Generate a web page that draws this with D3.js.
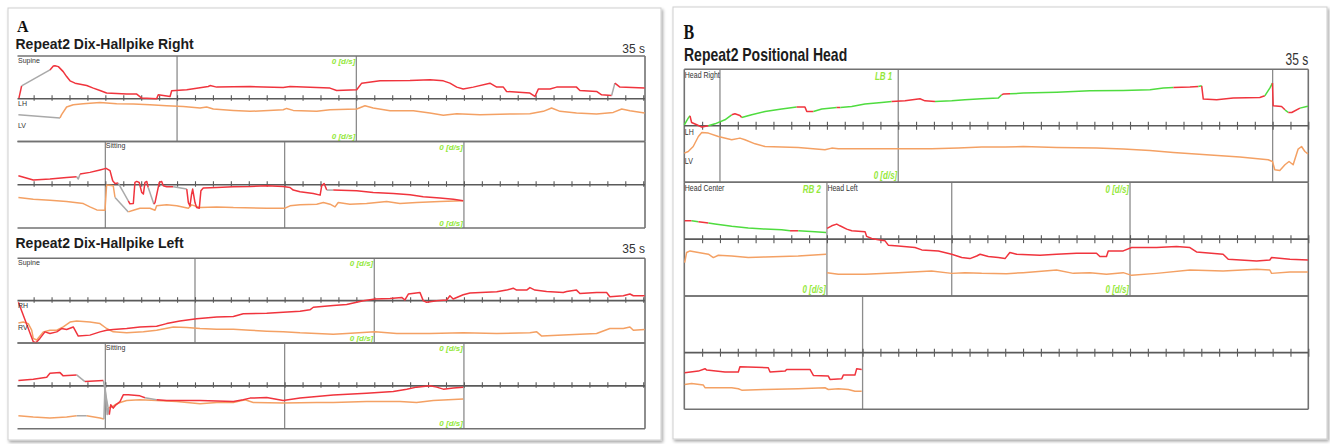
<!DOCTYPE html>
<html>
<head>
<meta charset="utf-8">
<script src="https://cdn.jsdelivr.net/npm/d3@7"></script>
<style>
  html, body { margin: 0; padding: 0; background: #fff; }
  svg { display: block; font-family: "Liberation Sans", Arial, sans-serif; }
</style>
</head>
<body>
<svg id="chart" width="1330" height="444"></svg>
<script>
// ---------------- recorded traces: [time (s), velocity (d/s)] ----------------
// Dix-Hallpike Right, horizontal (LH) and vertical (LV) channels
const dhRightH = [
  [0.18,0.16],[0.33,3.02],[1.91,6.74],[2.10,7.67],[2.19,7.74],[2.38,7.51],[2.65,6.35],[2.84,5.19],[3.03,4.19],[3.31,3.65],
  [3.96,3.09],[4.33,2.49],[4.70,1.93],[5.07,1.33],[6.19,1.09],[6.75,1.09],[7.03,0.16],[7.86,0],[7.95,0.93],[8.61,0.53],
  [8.70,1.86],[9.54,2.09],[10.74,2.86],[10.84,3.09],[11.21,2.72],[13.07,2.86],[14.92,2.63],[15.30,2.86],[16.79,2.63],[17.53,2.49],
  [17.90,1.93],[19.02,2.09],[19.30,3.65],[20.32,4.19],[21.99,4.26],[23.11,4.42],[23.85,4.19],[24.22,3.65],[24.60,2.72],[24.96,2.26],
  [25.52,2.72],[26.45,3.65],[26.83,2.72],[27.20,2.72],[27.38,1.70],[28.68,1.33],[28.96,0.53],[29.15,2.26],[29.80,2.26],[30.17,2.72],
  [31.28,2.72],[31.47,1.93],[32.40,1.70],[32.68,0.93],[33.24,0.77],[33.42,3.65],[33.70,2.72],[35.08,2.49],
  [35.15,2.09],[35.98,1.09],[36.91,1.33],[37.84,1.70],[38.40,1.86],[38.49,1.33],[38.59,2.49],[39.14,2.86],[39.70,3.42],[40.04,3.79],
  [40.26,3.26],[40.41,0.93],[40.54,0.30],[40.72,0.40],[41.28,-3.72],[41.37,-4.42],[41.56,-4.35],[41.65,0.53],[41.75,0.77],[41.89,0.53],
  [42.03,-1.79],[42.12,-2.16],[42.21,0.53],[42.31,0.77],[42.39,-0.63],[42.71,-4.49],[42.77,-4.12],[43.01,0.53],[43.14,0.77],[43.23,-0.23],
  [43.42,-0.47],[43.79,-0.47],[44.54,-1.00],[44.63,-4.12],[44.72,-4.88],[44.81,-2.16],[44.87,-1.00],[45.00,-4.12],[45.09,-5.28],[45.24,-5.42],
  [45.33,-1.40],[45.46,-0.77],[46.21,-0.63],[47.14,-0.47],[48.07,-0.40],[49.00,-0.23],[49.92,-0.40],[50.30,-0.63],[50.48,-1.23],[50.86,-1.63],
  [51.60,-2.02],[51.98,-2.40],[52.07,-0.23],[52.20,0.30],[52.35,-1.23],[52.71,-1.23],[54.02,-1.40],[54.94,-1.79],[56.06,-2.02],[56.99,-2.33],
  [57.73,-2.79],[58.66,-3.09],[59.41,-3.33],[59.96,-3.72]
];
const dhRightHGaps = [[0.33,1.91],[33.24,33.42],[38.40,38.59],[40.72,41.28],[42.39,42.71],[43.79,44.54],[52.35,52.71]];
const dhRightV = [
  [0.15,-3.72],[2.47,-4.49],[2.56,-3.72],[2.84,-1.93],[3.21,-1.40],[3.77,-1.16],[4.70,-0.86],[5.63,-1.16],[6.56,-1.23],[7.49,-1.40],
  [8.42,-1.63],[9.35,-1.79],[10.28,-2.16],[10.65,-1.93],[11.02,-2.40],[12.14,-2.72],[13.07,-2.95],[14.92,-2.56],[15.11,-2.26],[15.48,-2.72],
  [16.79,-2.95],[17.53,-2.56],[19.02,-2.40],[19.48,-1.63],[19.94,-2.16],[20.88,-2.79],[22.18,-2.79],[23.10,-3.33],[23.85,-3.88],[24.60,-3.49],
  [25.90,-3.72],[27.75,-3.56],[28.68,-3.49],[29.43,-2.95],[29.89,-2.16],[30.36,-2.95],[31.28,-3.33],[32.40,-3.56],[33.33,-3.19],[33.80,-2.40],
  [34.26,-2.79],[35.08,-3.33],
  [35.15,-2.95],[35.98,-3.33],[36.91,-3.56],[37.84,-3.88],[38.77,-4.35],[39.14,-5.12],[39.52,-5.81],[39.98,-5.88],[40.07,-0.07],[40.44,-0.23],
  [40.54,-2.95],[41.28,-6.28],[41.56,-5.88],[41.93,-5.42],[42.49,-5.42],[42.77,-5.88],[42.86,-4.88],[43.42,-4.65],[43.98,-4.88],[44.63,-5.42],
  [44.81,-4.65],[45.28,-5.28],[46.21,-5.12],[47.14,-5.28],[49.00,-5.42],[50.02,-5.42],[50.30,-4.88],[50.86,-4.65],[51.79,-4.49],[52.16,-4.12],
  [52.53,-4.49],[52.81,-5.12],[52.99,-4.12],[53.64,-4.49],[54.57,-4.35],[55.69,-3.88],[56.43,-4.35],[57.36,-4.12],[58.66,-3.88],[59.96,-3.72]
];
const dhRightVGaps = [[0.15,2.47],[40.54,41.28]];

// Dix-Hallpike Left, horizontal (RH) and vertical (RV) channels
const dhLeftH = [
  [0.15,-0.40],[0.98,-9.70],[1.13,-9.93],[1.35,-8.91],[1.63,-7.37],[1.91,-7.74],[2.29,-7.37],[2.56,-6.58],[2.84,-6.81],[3.21,-6.21],
  [3.49,-8.37],[4.14,-8.14],[4.70,-7.37],[5.07,-6.98],[5.44,-6.81],[6.19,-6.58],[6.93,-6.21],[7.86,-6.05],[8.42,-5.42],[9.16,-4.81],
  [10.09,-4.26],[11.21,-3.88],[12.14,-3.72],[12.69,-3.09],[14.00,-2.95],[14.92,-2.72],[15.86,-2.49],[16.41,-2.16],[16.60,-1.56],[17.71,-1.16],
  [18.46,-0.93],[19.39,0],[20.04,0.40],[20.88,0.53],[21.53,0.77],[21.71,0.16],[21.90,1.56],[22.55,1.93],[22.73,0],[22.92,-0.40],
  [23.48,0],[24.04,0.16],[24.22,1.16],[24.40,0.40],[24.96,1.40],[25.34,1.79],[26.83,2.09],[27.38,2.49],[27.75,2.95],[27.94,2.49],
  [28.50,2.49],[28.68,3.09],[28.96,2.49],[29.61,2.16],[30.54,1.93],[30.73,2.16],[31.28,2.49],[31.47,1.70],[32.40,1.93],[32.96,1.93],
  [33.14,0.93],[33.89,1.16],[34.26,1.56],[34.45,1.16],[35.08,1.16],
  [35.15,1.23],[35.98,1.56],[36.73,2.02],[36.91,2.95],[37.47,3.09],[37.65,2.33],[38.40,2.56],[38.86,1.00],[39.89,1.23],[40.22,-6.74],
  [40.30,-4.42],[40.44,-5.19],[40.59,-4.42],[40.82,-3.65],[41.00,-2.09],[41.28,-2.09],[41.93,-2.33],[42.21,-2.79],[42.86,-3.26],[43.42,-3.42],
  [45.28,-3.42],[47.14,-3.65],[47.69,-3.26],[48.07,-2.86],[49.00,-2.72],[49.92,-3.42],[50.86,-2.86],[51.79,-2.49],[52.71,-2.16],[54.57,-1.70],
  [56.06,-1.33],[56.81,-0.77],[57.36,-0.30],[58.10,0],[58.48,-0.30],[58.85,-0.77],[59.41,-0.53],[59.96,-0.30]
];
const dhLeftHGaps = [[38.40,38.86],[39.89,40.22],[42.21,42.86]];
const dhLeftV = [
  [0.15,-5.28],[0.42,-5.05],[0.70,-5.42],[0.89,-6.98],[0.98,-8.91],[1.17,-9.30],[1.54,-7.37],[1.91,-6.98],[2.29,-6.98],[2.65,-6.21],
  [3.03,-5.05],[3.40,-4.81],[4.14,-5.05],[4.70,-5.42],[5.07,-6.58],[5.44,-7.37],[6.19,-7.60],[7.12,-7.37],[7.86,-6.98],[8.79,-6.21],
  [9.54,-6.35],[10.28,-6.58],[11.21,-6.74],[12.14,-6.74],[13.07,-6.98],[14.00,-7.21],[14.92,-7.37],[15.86,-7.60],[16.79,-7.74],[17.71,-7.91],
  [18.46,-7.74],[20.04,-7.37],[21.25,-7.74],[23.10,-7.74],[24.96,-7.60],[26.83,-7.74],[28.68,-7.60],[29.06,-7.37],[29.34,-8.37],[30.54,-8.14],
  [32.40,-7.74],[33.14,-6.58],[33.89,-6.58],[34.26,-6.21],[34.45,-6.98],[35.08,-6.81],
  [35.15,-6.98],[35.98,-7.28],[36.91,-7.51],[37.84,-7.28],[38.40,-6.98],[38.96,-6.98],[39.70,-7.51],[39.92,-7.74],[39.98,0.20],[40.10,-6.70],
  [40.16,-5.19],[40.35,-4.95],[40.54,-4.42],[40.82,-3.88],[41.19,-3.42],[41.93,-3.26],[42.86,-3.42],[43.98,-3.65],[45.28,-4.19],[46.21,-3.88],
  [47.14,-3.88],[47.79,-3.26],[48.25,-3.88],[49.92,-4.02],[51.79,-3.88],[52.71,-3.88],[54.57,-3.65],[56.43,-3.65],[57.36,-3.88],[58.29,-3.42],
  [59.96,-3.09]
];
const dhLeftVGaps = [[38.40,38.96],[39.92,40.16]];

// Positional test: head right, head center, head left
const posRightH = [
  [0.00,0.18],[0.22,1.36],[0.32,1.77],[0.41,0.58],[0.70,0.18],[0.98,-0.23],[1.35,0],[1.72,0.35],[2.28,1.06],[2.66,1.95],
  [2.84,2.12],[3.12,1.82],[3.22,1.47],[3.78,1.95],[4.53,2.53],[5.46,2.96],[6.30,3.31],[6.77,3.31],[6.87,2.53],[7.24,2.53],
  [7.71,2.96],[8.55,3.22],[8.75,3.26],[9.39,3.42],[10.13,3.84],[11.07,4.12],[11.63,4.30],[12.38,4.42],[13.22,4.78],[13.50,4.42],
  [14.06,4.30],[15.00,4.42],[15.74,4.60],[16.68,4.78],[17.61,4.90],[17.80,5.49],[17.89,5.61],[18.27,5.66],[19.01,5.79],[20.89,5.96],
  [22.75,6.19],[24.62,6.25],[26.12,6.37],[26.87,6.67],[27.43,6.78],[28.36,6.85],[28.83,6.96],[29.02,7.08],[29.11,4.73],[29.86,4.60],
  [30.79,4.90],[32.28,5.01],[32.56,5.31],[32.84,6.67],[32.99,7.56],[33.03,3.54],[33.50,3.42],[33.69,2.83],[33.88,2.35],[34.07,2.35],
  [34.53,3.13],[34.91,3.42],[34.98,3.45]
];
const posRightHRed = [[0.3,1.2],[2.6,3.2],[6.2,7.1],[8.5,8.8],[11.6,14.0],[17.8,18.4],[27.4,28.9],[29.05,32.5],[32.95,33.7],[33.95,34.6]];
const posRightV = [
  [0.00,-4.83],[0.22,-4.55],[0.50,-3.66],[0.79,-1.89],[0.98,-1.19],[1.35,-1.29],[1.91,-1.89],[2.66,-2.48],[3.12,-2.18],[3.40,-2.48],
  [3.97,-3.19],[4.53,-3.66],[6.39,-3.84],[7.89,-4.25],[8.27,-3.95],[8.64,-4.07],[10.13,-4.07],[12.00,-4.07],[13.87,-4.07],[15.37,-3.95],
  [16.68,-3.77],[17.99,-3.77],[19.01,-3.66],[20.89,-3.84],[23.13,-3.95],[24.62,-4.12],[26.12,-4.37],[27.43,-4.73],[29.29,-5.13],[31.16,-5.54],
  [32.75,-6.02],[32.99,-6.32],[33.12,-7.79],[33.40,-7.91],[33.69,-6.90],[33.92,-6.32],[34.15,-6.90],[34.43,-4.12],[34.62,-3.66],[34.81,-4.55],
  [34.98,-4.96]
];
const posCenterH = [
  [35.02,3.24],[35.41,3.24],[35.79,3.06],[36.35,2.83],[36.72,2.65],[37.66,2.25],[38.59,1.95],[39.53,1.77],[40.46,1.65],[40.93,1.47],
  [41.39,1.47],[42.33,1.29],[42.95,1.19]
];
const posCenterHRed = [[35.0,35.3],[36.0,36.4],[40.7,41.2]];
const posCenterV = [
  [35.02,-4.12],[35.13,-2.35],[35.32,-2.07],[35.79,-2.35],[36.35,-2.65],[36.63,-3.24],[36.91,-2.83],[37.66,-2.96],[38.59,-3.24],[39.53,-3.13],
  [41.39,-2.96],[42.95,-2.65]
];
const posLeftH = [
  [43.01,1.89],[43.27,2.35],[43.55,2.65],[43.73,2.35],[44.11,1.77],[44.39,1.47],[45.14,1.29],[45.23,0.48],[45.51,0.12],[45.88,-0.12],
  [46.26,-0.30],[46.44,-1.06],[47.00,-1.19],[47.94,-1.47],[48.32,-1.89],[49.25,-2.07],[50.00,-2.65],[50.56,-3.24],[51.02,-3.42],[51.40,-2.96],
  [51.59,-2.65],[52.05,-3.06],[52.61,-3.24],[52.99,-3.42],[53.26,-2.35],[53.64,-2.65],[54.95,-2.83],[55.88,-2.65],[57.00,-2.48],[58.12,-2.48],
  [58.31,-3.06],[58.68,-3.06],[58.78,-2.07],[59.62,-2.07],[60.09,-1.47],[61.49,-1.47],[62.61,-1.29],[63.36,-1.47],[63.73,-2.25],[65.22,-2.65],
  [65.51,-3.54],[67.10,-3.84],[67.84,-3.66],[67.94,-3.24],[68.97,-3.54],[69.98,-3.66],
  [70.02,-3.54],[70.79,-3.26],[71.16,-2.83],[71.26,-3.08],[72.28,-3.43],[73.03,-3.43],[73.12,-2.48],[74.71,-2.65],[74.81,-3.43],[75.65,-3.26],
  [75.74,-2.96],[77.05,-2.96],[77.24,-4.02],[78.08,-4.14],[78.17,-4.73],[78.83,-4.60],[78.92,-3.96],[79.57,-3.96],[79.67,-2.83],[79.95,-2.96]
];
const posLeftV = [
  [43.01,-5.89],[43.64,-6.19],[44.39,-6.19],[45.14,-6.19],[47.00,-5.89],[48.87,-5.61],[50.00,-6.02],[50.74,-5.89],[51.68,-6.02],[53.08,-6.07],
  [54.01,-5.89],[55.88,-5.43],[56.82,-6.02],[57.75,-5.89],[58.68,-6.19],[59.62,-5.89],[60.09,-6.37],[61.49,-6.02],[63.36,-5.43],[65.22,-5.61],
  [67.10,-5.31],[67.84,-5.43],[67.94,-6.02],[68.97,-5.79],[69.98,-5.79],
  [70.02,-5.61],[70.41,-5.43],[71.07,-5.73],[71.16,-6.19],[72.66,-6.19],[73.03,-6.37],[73.22,-6.62],[74.52,-6.50],[76.39,-6.37],[77.89,-6.19],
  [78.08,-6.50],[78.64,-6.37],[79.20,-6.50],[79.57,-6.80],[79.95,-6.80]
];

// segment boundaries (s), position phases, and scale markers
const dhRightDividers = [9, 19, 40, 50, 60];
const dhLeftDividers = [10, 20, 40, 50, 60];
const posDividers = [2, 12, 33, 43, 50, 60, 80];
const dhRightPhases = [[0.1, "Supine"], [40, "Sitting"]];
const dhLeftPhases = [[0.1, "Supine"], [40, "Sitting"]];
const posPhases = [[0, "Head Right"], [35, "Head Center"], [43, "Head Left"]];
const dhRightMarkers = [[19, "0 [d/s]", "0 [d/s]"], [60, "0 [d/s]", "0 [d/s]"]];
const dhLeftMarkers = [[20, "0 [d/s]", "0 [d/s]"], [60, "0 [d/s]", "0 [d/s]"]];
const posMarkers = [[12, "LB 1", "0 [d/s]"], [43, "RB 2", "0 [d/s]"], [60, "0 [d/s]", "0 [d/s]"]];

// ---------------- drawing ----------------
const svg = d3.select("#chart");
const COLORS = { h: "#f0343d", v: "#f4a164", green: "#4fdc3f", gap: "#a9a9a9",
                 frame: "#727272", axis: "#5a5a5a", divider: "#8c8c8c", rate: "#94e83c", text: "#3a3a3a" };

const defs = svg.append("defs");
const sh = defs.append("filter").attr("id", "shadow")
  .attr("x", "-3%").attr("y", "-3%").attr("width", "106%").attr("height", "108%");
sh.append("feDropShadow").attr("dx", 1.5).attr("dy", 2).attr("stdDeviation", 1.6)
  .attr("flood-color", "#000").attr("flood-opacity", 0.35);

// outer panel cards
[[8, 8, 653, 432], [673, 7, 654, 432]].forEach(([x, y, w, h]) => {
  svg.append("rect").attr("x", x).attr("y", y).attr("width", w).attr("height", h)
    .attr("fill", "#fff").attr("stroke", "#cfcfcf").attr("stroke-width", 1)
    .attr("filter", "url(#shadow)");
});

function text(g, x, y, str, o = {}) {
  return g.append("text")
    .attr("transform", `translate(${x},${y}) scale(${o.sx || 1},${o.sy || 1})`)
    .attr("text-anchor", o.anchor || "start")
    .attr("font-size", o.size || 7)
    .attr("font-weight", o.weight || "normal")
    .attr("font-style", o.style || "normal")
    .attr("font-family", o.family || null)
    .attr("fill", o.fill || COLORS.text)
    .text(str);
}

function within(t, spans) { return (spans || []).some(([a, b]) => t >= a && t <= b); }

function drawRecording(cfg) {
  const g = svg.append("g");
  const sy = cfg.textScale || 1;
  const span = 35;
  cfg.rows.forEach((row, i) => {
    const t0 = cfg.start + i * span, t1 = t0 + span;
    const inRow = t => t >= t0 - 1e-6 && t < t1 - 1e-6;
    const x = d3.scaleLinear().domain([t0, t1]).range([cfg.left, cfg.right]);
    const y = d3.scaleLinear().domain([-10, 10]).range([row.bottom, row.top]);
    const ay = y(0);

    // segment dividers
    cfg.dividers.filter(inRow).forEach(t => {
      g.append("line").attr("x1", x(t)).attr("x2", x(t)).attr("y1", row.top).attr("y2", row.bottom)
        .attr("stroke", COLORS.divider).attr("stroke-width", 1.3);
    });

    // row frame
    const fr = g.append("g").attr("stroke", COLORS.frame).attr("stroke-width", 1.6);
    fr.append("line").attr("x1", cfg.left).attr("x2", cfg.right).attr("y1", row.top).attr("y2", row.top);
    fr.append("line").attr("x1", cfg.left).attr("x2", cfg.right).attr("y1", row.bottom).attr("y2", row.bottom);
    fr.append("line").attr("x1", cfg.right).attr("x2", cfg.right).attr("y1", row.top).attr("y2", row.bottom);
    if (cfg.leftBorder)
      fr.append("line").attr("x1", cfg.left).attr("x2", cfg.left).attr("y1", row.top).attr("y2", row.bottom);

    // zero line with one-second ticks
    g.append("line").attr("x1", cfg.left).attr("x2", cfg.right).attr("y1", ay).attr("y2", ay)
      .attr("stroke", COLORS.axis).attr("stroke-width", 1.6);
    const ticks = d3.range(Math.floor(t0) + 1, t1 + 1e-6, 1);
    g.append("g").attr("transform", `translate(0,${ay - cfg.tickUp})`)
      .call(d3.axisBottom(x).tickValues(ticks).tickFormat("").tickSizeInner(cfg.tickUp + cfg.tickDown).tickSizeOuter(0))
      .call(a => a.select(".domain").remove())
      .call(a => a.selectAll("line").attr("stroke", COLORS.axis).attr("stroke-width", 1.1));

    // traces, coloured piecewise (artefact gaps in grey, alternate spans recoloured)
    const line = d3.line().x(d => x(d[0])).y(d => y(d[1]));
    cfg.traces.forEach(tr => {
      const pts = tr.data.filter(d => d[0] >= t0 - 1e-6 && d[0] <= t1 + 1e-6);
      const runs = [];
      let cur = null;
      for (let k = 1; k < pts.length; k++) {
        const m = (pts[k - 1][0] + pts[k][0]) / 2;
        const c = within(m, tr.gaps) ? COLORS.gap : within(m, tr.spans) ? tr.spanColor : tr.color;
        if (!cur || cur.c !== c) { cur = { c, p: [pts[k - 1]] }; runs.push(cur); }
        cur.p.push(pts[k]);
      }
      runs.forEach(r => g.append("path").attr("d", line(r.p)).attr("fill", "none")
        .attr("stroke", r.c).attr("stroke-width", 1.5).attr("stroke-linejoin", "round"));
    });

    // phase names
    cfg.phases.filter(p => inRow(p[0])).forEach(([t, name]) =>
      text(g, x(t) + 0.5, row.top + 6.5 * sy, name, { size: 7, sy, fill: "#333" }));

    // channel names on the first row
    if (i === 0) {
      text(g, cfg.left + 0.5, ay + 7 * sy, cfg.channels[0], { size: 7, sy, fill: "#333" });
      text(g, cfg.left + 0.5, ay + 29 * sy, cfg.channels[1], { size: 7, sy, fill: "#333" });
    }

    // scale markers
    cfg.markers.filter(m => inRow(m[0])).forEach(([t, top, bottom]) => {
      const xe = x(t) - (top === "0 [d/s]" ? 1 : 6);
      text(g, xe, row.top + 8 * sy, top, { size: 8, sy, anchor: "end", style: "italic", weight: "bold", fill: COLORS.rate });
      text(g, x(t) - 1, row.bottom - 2.5 * sy, bottom, { size: 8, sy, anchor: "end", style: "italic", weight: "bold", fill: COLORS.rate });
    });
  });
}

// ---- panel A ----
const gA = svg.append("g");
text(gA, 17, 32.3, "A", { size: 16, weight: "bold", family: "'Liberation Serif', 'DejaVu Serif', serif", fill: "#111" });
text(gA, 15.5, 49.3, "Repeat2 Dix-Hallpike Right", { size: 14, weight: "bold", fill: "#1c1c1c" });
text(gA, 645, 53.3, "35 s", { size: 12, anchor: "end", fill: "#333" });
text(gA, 15.5, 248.3, "Repeat2 Dix-Hallpike Left", { size: 14, weight: "bold", fill: "#1c1c1c" });
text(gA, 645, 253.3, "35 s", { size: 12, anchor: "end", fill: "#333" });

drawRecording({
  left: 17.5, right: 645, start: 0.1, tickUp: 3.5, tickDown: 2,
  rows: [{ top: 56, bottom: 141.5 }, { top: 141.5, bottom: 228 }],
  dividers: dhRightDividers, phases: dhRightPhases, markers: dhRightMarkers, channels: ["LH", "LV"],
  traces: [
    { data: dhRightV, color: COLORS.v, gaps: dhRightVGaps },
    { data: dhRightH, color: COLORS.h, gaps: dhRightHGaps }
  ]
});
drawRecording({
  left: 17.5, right: 645, start: 0.1, tickUp: 3.5, tickDown: 2,
  rows: [{ top: 258.3, bottom: 343 }, { top: 343, bottom: 428.7 }],
  dividers: dhLeftDividers, phases: dhLeftPhases, markers: dhLeftMarkers, channels: ["RH", "RV"],
  traces: [
    { data: dhLeftV, color: COLORS.v, gaps: dhLeftVGaps },
    { data: dhLeftH, color: COLORS.h, gaps: dhLeftHGaps }
  ]
});

// ---- panel B ----
const gB = svg.append("g");
text(gB, 683.5, 39, "B", { size: 16, sy: 1.28, weight: "bold", family: "'Liberation Serif', 'DejaVu Serif', serif", fill: "#111" });
text(gB, 684, 60.7, "Repeat2 Positional Head", { size: 14, sy: 1.25, weight: "bold", fill: "#1c1c1c" });
text(gB, 1308.3, 65, "35 s", { size: 12, sy: 1.35, anchor: "end", fill: "#333" });

drawRecording({
  left: 684.3, right: 1308.3, start: 0, tickUp: 4, tickDown: 4, textScale: 1.3, leftBorder: true,
  rows: [{ top: 69.3, bottom: 182.3 }, { top: 182.3, bottom: 296 }, { top: 296, bottom: 409.3 }],
  dividers: posDividers, phases: posPhases, markers: posMarkers, channels: ["LH", "LV"],
  traces: [
    { data: posRightV, color: COLORS.v },
    { data: posCenterV, color: COLORS.v },
    { data: posLeftV, color: COLORS.v },
    { data: posRightH, color: COLORS.green, spans: posRightHRed, spanColor: COLORS.h },
    { data: posCenterH, color: COLORS.green, spans: posCenterHRed, spanColor: COLORS.h },
    { data: posLeftH, color: COLORS.h }
  ]
});
</script>
</body>
</html>
